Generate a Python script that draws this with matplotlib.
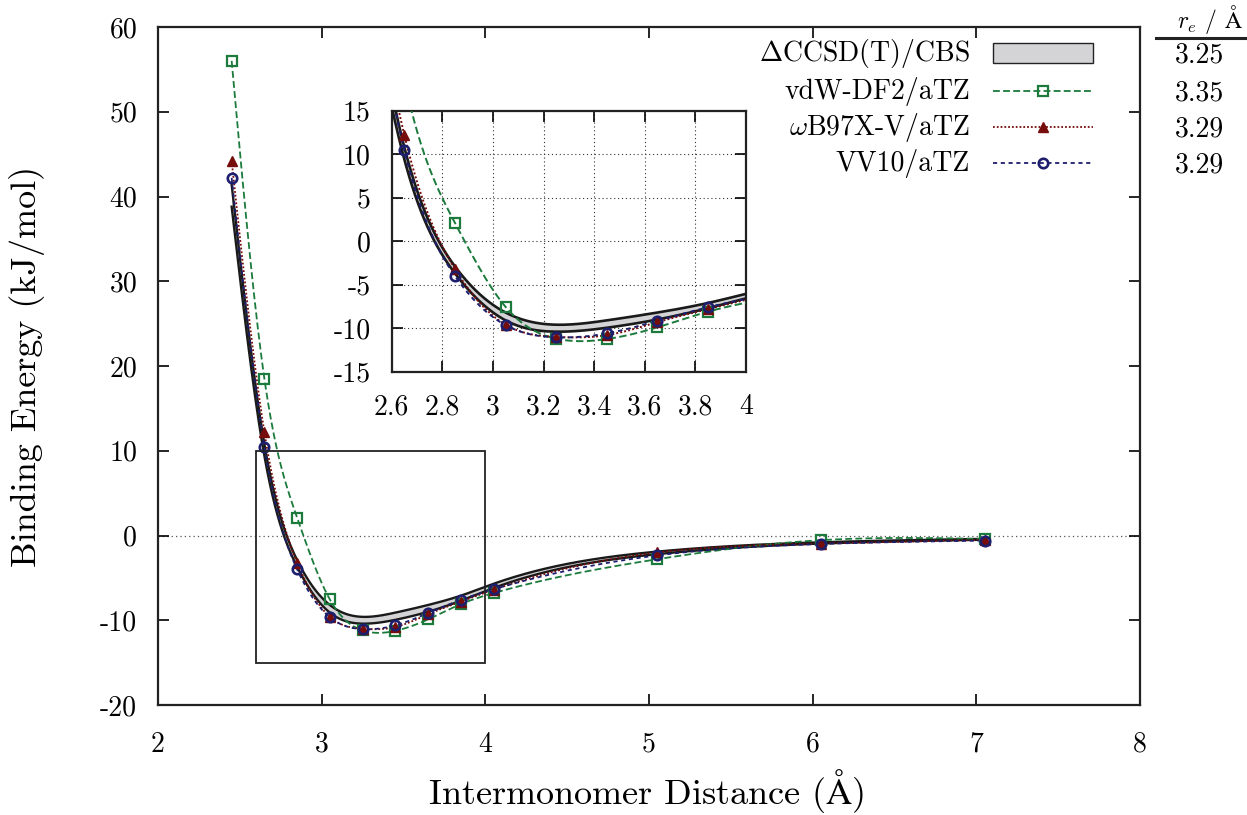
import numpy as np
import matplotlib
matplotlib.use('Agg')
import matplotlib.pyplot as plt
from matplotlib.patches import Rectangle
from matplotlib.lines import Line2D

# ---------------- data ----------------
distance = [2.45, 2.65, 2.85, 3.05, 3.25, 3.45, 3.65, 3.85, 4.05, 5.05, 6.05, 7.05]
ccsdt_upper = [41.4, 10.8, -2.9, -8.2, -9.6, -9.1, -8.2, -7.1, -5.7, -1.9, -0.8, -0.4]
ccsdt_lower = [38.8, 9.4, -3.7, -9.1, -10.4, -9.95, -9.0, -7.7, -6.2, -2.2, -0.95, -0.5]
vdw_df2 = [56.0, 18.5, 2.1, -7.55, -11.2, -11.25, -9.9, -8.1, -6.8, -2.8, -0.55, -0.4]
wb97xv = [44.2, 12.2, -3.2, -9.6, -11.0, -10.8, -9.3, -7.8, -6.4, -2.0, -0.95, -0.5]
vv10 = [42.2, 10.45, -4.0, -9.65, -11.05, -10.6, -9.15, -7.6, -6.35, -2.35, -1.0, -0.6]

series_labels = [r'$\Delta$CCSD(T)/CBS', 'vdW-DF2/aTZ', r'$\omega$B97X-V/aTZ', 'VV10/aTZ']
re_header = r'$r_e$ / $\mathrm{\AA}$'
re_values = ['3.25', '3.35', '3.29', '3.29']

main_xticks = [2, 3, 4, 5, 6, 7, 8]
main_yticks = [-20, -10, 0, 10, 20, 30, 40, 50, 60]
inset_xticks = [2.6, 2.8, 3.0, 3.2, 3.4, 3.6, 3.8, 4.0]
inset_xticklabels = ['2.6', '2.8', '3', '3.2', '3.4', '3.6', '3.8', '4']
inset_yticks = [-15, -10, -5, 0, 5, 10, 15]
zoom_box = (2.6, -15, 4.0, 10)

# ---------------- style ----------------
plt.rcParams['font.family'] = ['cmr10', 'DejaVu Serif']
plt.rcParams['mathtext.fontset'] = 'cm'
plt.rcParams['axes.unicode_minus'] = False
plt.rcParams['axes.formatter.use_mathtext'] = True

GREEN = '#1b7a3c'
RED = '#760c0c'
BLUE = '#1e1e6e'
BAND = '#d4d4d6'
TICK_FS = 20

styles = {
    'vdw': dict(color=GREEN, ls=(0, (3.8, 1.8)), marker='s', mfc='none', mec=GREEN, ms=6.8, mew=1.6),
    'wb': dict(color=RED, ls=(0, (1, 1.1)), marker='^', mfc=RED, mec=RED, ms=7.5, mew=1.0),
    'vv': dict(color=BLUE, ls=(0, (2.3, 2.0)), marker='o', mfc='none', mec=BLUE, ms=6.8, mew=1.9),
}


def natural_spline(x, y, n=1500):
    x = np.asarray(x, float)
    y = np.asarray(y, float)
    h = np.diff(x)
    nn = len(x)
    A = np.zeros((nn, nn))
    b = np.zeros(nn)
    A[0, 0] = A[-1, -1] = 1
    for i in range(1, nn - 1):
        A[i, i - 1] = h[i - 1]
        A[i, i] = 2 * (h[i - 1] + h[i])
        A[i, i + 1] = h[i]
        b[i] = 6 * ((y[i + 1] - y[i]) / h[i] - (y[i] - y[i - 1]) / h[i - 1])
    M = np.linalg.solve(A, b)
    xs = np.linspace(x[0], x[-1], n)
    idx = np.clip(np.searchsorted(x, xs) - 1, 0, nn - 2)
    x0 = x[idx]
    x1 = x[idx + 1]
    hh = x1 - x0
    t0 = x1 - xs
    t1 = xs - x0
    ys = ((M[idx] * t0 ** 3 + M[idx + 1] * t1 ** 3) / (6 * hh)
          + (y[idx] / hh - M[idx] * hh / 6) * t0
          + (y[idx + 1] / hh - M[idx + 1] * hh / 6) * t1)
    return xs, ys


def draw_curves(ax, lw_series=1.3, lw_band=1.7):
    xu, yu = natural_spline(distance, ccsdt_upper)
    xl, yl = natural_spline(distance, ccsdt_lower)
    ax.fill_between(xu, yl, yu, color=BAND, lw=0, zorder=2)
    ax.plot(xu, yu, color='#1a1a1a', lw=lw_band, zorder=3)
    ax.plot(xl, yl, color='#1a1a1a', lw=lw_band, zorder=3)
    for key, data in (('vdw', vdw_df2), ('wb', wb97xv), ('vv', vv10)):
        st = styles[key]
        xs, ys = natural_spline(distance, data)
        ax.plot(xs, ys, color=st['color'], ls=st['ls'], lw=lw_series, zorder=4)
        ax.plot(distance, data, ls='none', marker=st['marker'], mfc=st['mfc'],
                mec=st['mec'], ms=st['ms'], mew=st['mew'], zorder=5)


W, H = 1247, 815
fig = plt.figure(figsize=(W / 100, H / 100), dpi=100)


def fx(px):
    return px / W


def fy(py):
    return 1 - py / H


# ---------------- main axes ----------------
ax = fig.add_axes([fx(158), fy(705), fx(1140) - fx(158), fy(27) - fy(705)])
draw_curves(ax)
ax.axhline(0, color='#555555', lw=0.9, ls=(0, (1, 2.5)), zorder=1)
ax.add_patch(Rectangle((zoom_box[0], zoom_box[1]), zoom_box[2] - zoom_box[0],
                       zoom_box[3] - zoom_box[1], fill=False, ec='#222222', lw=1.3, zorder=6))
ax.set_xlim(2, 8)
ax.set_ylim(-20, 60)
ax.set_xticks(main_xticks)
ax.set_xticklabels([str(t) for t in main_xticks])
ax.set_yticks(main_yticks)
ax.set_yticklabels([str(t) for t in main_yticks])
ax.tick_params(direction='in', length=8, width=1.2, top=True, right=True, labelsize=TICK_FS)
ax.tick_params(axis='x', pad=19)
ax.tick_params(axis='y', pad=15)
for s in ax.spines.values():
    s.set_linewidth(1.6)
    s.set_color('#222222')
ax.set_xlabel(r'Intermonomer Distance ($\mathrm{\AA}$)', fontsize=26, va='baseline')
ax.xaxis.set_label_coords(0.4975, -0.146)
ax.set_ylabel('Binding Energy (kJ/mol)', fontsize=26, va='center')
ax.yaxis.set_label_coords(-0.1334, 0.5)

# ---------------- legend (manual, right aligned) ----------------
rows_y = [53, 91, 127, 163]
text_right = 970
h0, h1 = 993, 1093
fig.text(fx(text_right), fy(rows_y[0]), series_labels[0], ha='right', va='center', fontsize=20)
fig.patches.append(Rectangle((fx(h0), fy(rows_y[0] + 10)), fx(h1) - fx(h0), fy(rows_y[0] - 10) - fy(rows_y[0] + 10),
                             transform=fig.transFigure, fc=BAND, ec='#222222', lw=1.0))
for lab, key, yy in zip(series_labels[1:], ('vdw', 'wb', 'vv'), rows_y[1:]):
    st = styles[key]
    fig.text(fx(text_right), fy(yy), lab, ha='right', va='center', fontsize=20)
    fig.lines.append(Line2D([fx(h0), fx(h1)], [fy(yy), fy(yy)], transform=fig.transFigure,
                            color=st['color'], ls=st['ls'], lw=1.3))
    fig.lines.append(Line2D([fx((h0 + h1) / 2)], [fy(yy)], transform=fig.transFigure, ls='none',
                            marker=st['marker'], mfc=st['mfc'], mec=st['mec'], ms=st['ms'], mew=st['mew']))

# ---------------- r_e table ----------------
fig.text(fx(1210), fy(20), re_header, ha='center', va='center', fontsize=17)
fig.lines.append(Line2D([fx(1156), fx(1247)], [fy(38), fy(38)], transform=fig.transFigure,
                        color='#222222', lw=2.2))
for val, yy in zip(re_values, rows_y):
    fig.text(fx(1199), fy(yy + 2), val, ha='center', va='center', fontsize=20)

# ---------------- inset ----------------
axi = fig.add_axes([fx(391.7), fy(371.7), fx(746) - fx(391.7), fy(110.7) - fy(371.7)])
draw_curves(axi, lw_series=1.4, lw_band=1.9)
axi.set_xlim(2.6, 4.0)
axi.set_ylim(-15, 15)
axi.set_xticks(inset_xticks)
axi.set_xticklabels(inset_xticklabels)
axi.set_yticks(inset_yticks)
axi.set_yticklabels([str(t) for t in inset_yticks])
axi.grid(True, color='#333333', lw=0.8, ls=(0, (1, 2.5)))
axi.tick_params(direction='in', length=8, width=1.2, top=True, right=True, labelsize=TICK_FS)
axi.tick_params(axis='x', pad=16)
axi.tick_params(axis='y', pad=15)
for s in axi.spines.values():
    s.set_linewidth(1.6)
    s.set_color('#222222')

fig.savefig('out.png', dpi=100)
